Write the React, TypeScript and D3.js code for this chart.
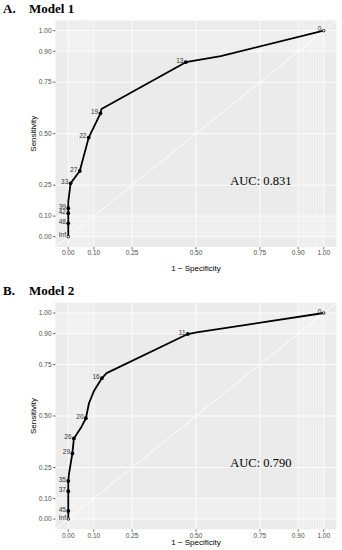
import React from "react";
import * as d3 from "d3";

const majorBreaks = [0, 0.1, 0.25, 0.5, 0.75, 0.9, 1];
const tickLabels = ["0.00", "0.10", "0.25", "0.50", "0.75", "0.90", "1.00"];
const minorBreaks = [0.01, 0.02, 0.03, 0.04, 0.05, 0.06, 0.07, 0.08, 0.09, 0.91, 0.92, 0.93, 0.94, 0.95, 0.96, 0.97, 0.98, 0.99];

const modelA_fpr = [0, 0, 0, 0, 0, 0.009, 0.045, 0.08, 0.126, 0.13, 0.46, 0.597, 1];
const modelA_tpr = [0, 0.065, 0.114, 0.138, 0.17, 0.259, 0.319, 0.481, 0.599, 0.62, 0.847, 0.877, 1];
const modelA_cut = ["Inf", "48", "42", "39", "", "33", "27", "22", "19", "", "13", "", "0"];

const modelB_fpr = [0, 0, 0, 0, 0.003, 0.016, 0.022, 0.052, 0.069, 0.081, 0.101, 0.132, 0.15, 0.468, 0.502, 1];
const modelB_tpr = [0, 0.039, 0.135, 0.185, 0.221, 0.318, 0.391, 0.448, 0.489, 0.562, 0.623, 0.684, 0.708, 0.898, 0.906, 1];
const modelB_cut = ["Inf", "45", "37", "35", "", "29", "26", "", "20", "", "", "16", "", "11", "", "0"];

const panels = [
  { letter: "A.", title: "Model 1", auc: "AUC: 0.831", fpr: modelA_fpr, tpr: modelA_tpr, cut: modelA_cut },
  { letter: "B.", title: "Model 2", auc: "AUC: 0.790", fpr: modelB_fpr, tpr: modelB_tpr, cut: modelB_cut },
];

const W = 342;
const H = 550;
const left = 55.5;
const right = 336.5;
const panelH = 226.6;
const offsets = [20.4, 302.7];
const titleY = [12.6, 295];
const tickGap = [5.7, 6.6];
const axisTitleY = [267.7, 542.6];

function Panel({ p, idx }: { p: typeof panels[0]; idx: number }) {
  const top = offsets[idx];
  const bottom = top + panelH;
  const x = d3.scaleLinear().domain([-0.05, 1.05]).range([left, right]);
  const y = d3.scaleLinear().domain([-0.05, 1.05]).range([bottom, top]);
  const pts = p.fpr.map((f, i) => ({ f, t: p.tpr[i], c: p.cut[i] }));
  const line = d3
    .line<{ f: number; t: number }>()
    .x((d) => x(d.f))
    .y((d) => y(d.t));
  const clipId = `clip${idx}`;
  const sans = "Liberation Sans, Arial, sans-serif";
  return (
    <g>
      <text x={3} y={titleY[idx]} fontFamily="Liberation Serif, Times New Roman, serif" fontWeight="bold" fontSize={13} fill="#000">
        {p.letter}
      </text>
      <text x={29} y={titleY[idx]} fontFamily="Liberation Serif, Times New Roman, serif" fontWeight="bold" fontSize={13} fill="#000">
        {p.title}
      </text>
      <defs>
        <clipPath id={clipId}>
          <rect x={left} y={top} width={right - left} height={panelH} />
        </clipPath>
      </defs>
      <rect x={left} y={top} width={right - left} height={panelH} fill="#EBEBEB" />
      <g clipPath={`url(#${clipId})`}>
        {minorBreaks.map((b) => (
          <g key={"m" + b}>
            <line x1={x(b)} x2={x(b)} y1={top} y2={bottom} stroke="#fff" strokeWidth={0.45} />
            <line x1={left} x2={right} y1={y(b)} y2={y(b)} stroke="#fff" strokeWidth={0.45} />
          </g>
        ))}
        {majorBreaks.map((b) => (
          <g key={"M" + b}>
            <line x1={x(b)} x2={x(b)} y1={top} y2={bottom} stroke="#fff" strokeWidth={0.9} />
            <line x1={left} x2={right} y1={y(b)} y2={y(b)} stroke="#fff" strokeWidth={0.9} />
          </g>
        ))}
        <line x1={x(-0.05)} y1={y(-0.05)} x2={x(1.05)} y2={y(1.05)} stroke="#fff" strokeWidth={1} />
        <path d={line(pts) || ""} fill="none" stroke="#000" strokeWidth={1.8} strokeLinejoin="round" />
        {pts.map((d, i) =>
          d.c === "" ? null : d.c === "Inf" || d.c === "0" ? (
            <circle key={i} cx={x(d.f)} cy={y(d.t)} r={1.3} fill="#fff" stroke="#000" strokeWidth={0.8} />
          ) : (
            <circle key={i} cx={x(d.f)} cy={y(d.t)} r={1.9} fill="#000" />
          )
        )}
      </g>
      {pts.map((d, i) =>
        d.c === "" ? null : (
          <text
            key={"l" + i}
            x={x(d.f) - 2.3}
            y={y(d.t) - 1.6}
            dy="0.35em"
            textAnchor="end"
            fontFamily={sans}
            fontSize={6.5}
            fill="#333"
          >
            {d.c}
          </text>
        )
      )}
      {majorBreaks.map((b, i) => (
        <g key={"t" + b}>
          <line x1={x(b)} x2={x(b)} y1={bottom} y2={bottom + 2.5} stroke="#333" strokeWidth={0.7} />
          <text x={x(b)} y={bottom + tickGap[idx]} dy="0.35em" textAnchor="middle" fontFamily={sans} fontSize={6.5} fill="#4D4D4D">
            {tickLabels[i]}
          </text>
          <line x1={left - 2.5} x2={left} y1={y(b)} y2={y(b)} stroke="#333" strokeWidth={0.7} />
          <text x={left - 4} y={y(b)} dy="0.35em" textAnchor="end" fontFamily={sans} fontSize={6.5} fill="#4D4D4D">
            {tickLabels[i]}
          </text>
        </g>
      ))}
      <text x={(left + right) / 2} y={axisTitleY[idx]} dy="0.35em" textAnchor="middle" fontFamily={sans} fontSize={8} fill="#000">
        1 − Specificity
      </text>
      <text
        transform={`translate(33,${(top + bottom) / 2}) rotate(-90)`}
        dy="0.35em"
        textAnchor="middle"
        fontFamily={sans}
        fontSize={8}
        fill="#000"
      >
        Sensitivity
      </text>
      <text x={x(0.754)} y={y(0.272)} dy="0.35em" textAnchor="middle" fontFamily="Liberation Serif, Times New Roman, serif" fontSize={12.5} fill="#000">
        {p.auc}
      </text>
    </g>
  );
}

export default function App() {
  return (
    <svg width={W} height={H} style={{ position: "absolute", left: 0, top: 0, background: "#fff" }}>
      <rect width={W} height={H} fill="#fff" />
      {panels.map((p, i) => (
        <Panel key={i} p={p} idx={i} />
      ))}
    </svg>
  );
}
